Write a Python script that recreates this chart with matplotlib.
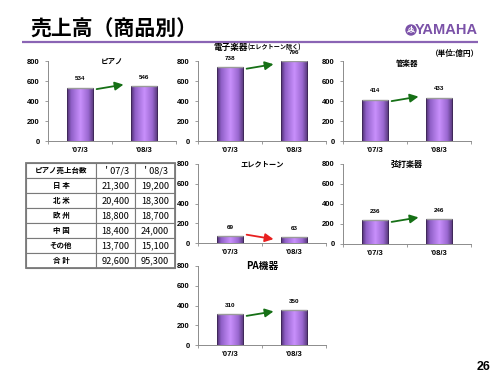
import numpy as np
import matplotlib
matplotlib.use('Agg')
import matplotlib.pyplot as plt
from matplotlib.colors import LinearSegmentedColormap
from matplotlib.patches import Circle, Rectangle

plt.rcParams['font.family'] = ['Noto Sans CJK JP', 'DejaVu Sans']

# data
categories = ["'07/3", "'08/3"]
piano = [534, 546]
denshi = [738, 796]
kan = [414, 433]
electone = [69, 63]
genda = [236, 246]
pa = [310, 350]

table_header = ['ピアノ売上台数', '＇07/3', '＇08/3']
regions = ['日 本', '北 米', '欧 州', '中 国', 'その他', '合 計']
units_07 = ['21,300', '20,400', '18,800', '18,400', '13,700', '92,600']
units_08 = ['19,200', '18,300', '18,700', '24,000', '15,100', '95,300']

W, H = 500, 375
fig = plt.figure(figsize=(5, 3.75), dpi=100)

def px_axes(x0, y0, x1, y1):
    # pixel box (top-left origin) -> figure axes
    return fig.add_axes([x0 / W, 1 - y1 / H, (x1 - x0) / W, (y1 - y0) / H])

bar_cmap = LinearSegmentedColormap.from_list(
    'bar', [(0, '#4e3070'), (0.15, '#9060c8'), (0.5, '#c990fc'),
            (0.8, '#9a68d0'), (1, '#523574')])
grad = np.linspace(0, 1, 64).reshape(1, -1)

def panel(box, values, title, title_size=5, title_dy=0.0):
    ax = px_axes(*box)
    x = np.arange(len(values))
    bars = ax.bar(x, values, width=0.41, color='none',
                  edgecolor='#40285a', linewidth=0.7, zorder=3)
    for b in bars:
        bx, by = b.get_x(), b.get_y()
        bw, bh = b.get_width(), b.get_height()
        im = ax.imshow(grad, extent=[bx, bx + bw, by, by + bh],
                       aspect='auto', cmap=bar_cmap, zorder=2)
        im.set_clip_path(b)
        ax.plot([bx, bx + bw], [by + bh, by + bh], color='#9a9a9a',
                lw=1.0, zorder=4, solid_capstyle='butt')
    for xi, v in zip(x, values):
        ax.annotate(str(v), (xi, v), xytext=(0, 4.5), textcoords='offset points',
                    ha='center', va='bottom', fontsize=4.5,
                    family='Liberation Sans', weight='bold')
    s = 1 if values[1] >= values[0] else -1
    y0 = values[0] - 15 * s
    y1 = y0 + 45 * s
    col = '#167016' if s > 0 else '#e82020'
    ax.annotate('', xy=(0.68, y1), xytext=(0.26, y0),
                arrowprops=dict(arrowstyle='-|>,head_length=0.5,head_width=0.25',
                                mutation_scale=10, color=col, lw=1.3,
                                shrinkA=0, shrinkB=0), zorder=5)
    ax.set_xlim(-0.5, 1.5)
    ax.set_ylim(0, 800)
    ax.set_yticks([0, 200, 400, 600, 800])
    ax.set_xticks(x)
    ax.set_xticklabels(categories)
    ax.set_xticks([-0.5, 0.5, 1.5], minor=True)
    for sp in ['top', 'right']:
        ax.spines[sp].set_visible(False)
    for sp in ['left', 'bottom']:
        ax.spines[sp].set_color('#8c8c8c')
        ax.spines[sp].set_linewidth(0.7)
    ax.tick_params(axis='y', length=2, width=0.6, color='#8c8c8c', pad=4)
    ax.tick_params(axis='x', which='major', length=0, pad=4)
    ax.tick_params(axis='x', which='minor', length=2, width=0.6, color='#8c8c8c')
    for lab in ax.get_xticklabels() + ax.get_yticklabels():
        lab.set_fontfamily('Liberation Sans')
        lab.set_fontweight('bold')
        lab.set_fontsize(5.5)
    if title:
        ax.text(0.5, 1.0 + title_dy, title, transform=ax.transAxes, ha='center',
                va='center', fontsize=title_size, weight='bold')
    return ax

panel((48, 61, 176, 141), piano, 'ピアノ', title_size=5.4)
ax_d = panel((198, 61, 326, 141), denshi, None)
ax_d.text(0.39, 1.17, '電子楽器', transform=ax_d.transAxes, ha='right',
          va='center', fontsize=6.2, weight='bold')
ax_d.text(0.39, 1.17, '(エレクトーン除く)', transform=ax_d.transAxes, ha='left',
          va='center', fontsize=4.4, weight='bold')
panel((343, 61, 471, 141), kan, '管楽器', title_size=5.4, title_dy=-0.03)
panel((198, 164, 326, 243), electone, 'エレクトーン', title_size=5.2)
panel((343, 164, 471, 244), genda, '弦打楽器', title_size=5.8)
panel((198, 266, 326, 345), pa, 'PA機器', title_size=7)

# table
tax = px_axes(26, 163, 175, 268)
tax.axis('off')
cell_text = [table_header] + [[r, a, b] for r, a, b in zip(regions, units_07, units_08)]
tbl = tax.table(cellText=cell_text, colWidths=[70 / 149, 39 / 149, 40 / 149],
                bbox=[0, 0, 1, 1], cellLoc='center')
tbl.auto_set_font_size(False)
for (r, c), cell in tbl.get_celld().items():
    cell.set_edgecolor('#7a7a7a')
    cell.set_linewidth(0.8)
    t = cell.get_text()
    if c == 0:
        t.set_fontsize(5.4)
        t.set_fontweight('bold')
    else:
        t.set_fontsize(6.6)
tax.add_patch(Rectangle((0, 0), 1, 1, transform=tax.transAxes, fill=False,
                        edgecolor='#7a7a7a', lw=1.3, clip_on=False))

# header, logo, page number
over = fig.add_axes([0, 0, 1, 1], zorder=-1)
over.set_xlim(0, W)
over.set_ylim(H, 0)
over.axis('off')
over.text(30, 29, '売上高（商品別）', fontsize=15, weight='bold', ha='left', va='center')
over.plot([22, 478], [42, 42], color='#8a64b4', lw=1.6, solid_capstyle='butt')
over.add_patch(Circle((411, 30), 5, color='#7b52a8'))
for ang in [90, 210, 330]:
    a = np.deg2rad(ang)
    over.plot([411, 411 + 4 * np.cos(a)], [30, 30 - 4 * np.sin(a)], color='white', lw=0.7)
over.add_patch(Circle((411, 30), 2.2, fill=False, edgecolor='white', lw=0.6))
over.text(478, 30, 'YAMAHA', fontsize=10.5, weight='bold', color='#7b52a8',
          family='Liberation Sans', ha='right', va='center')
over.text(455, 53, '（単位:億円）', fontsize=5.5, weight='bold', ha='center', va='center')
over.text(484, 367, '26', fontsize=9, weight='bold', family='Liberation Sans',
          ha='center', va='center')

fig.savefig('out.png', dpi=100)
